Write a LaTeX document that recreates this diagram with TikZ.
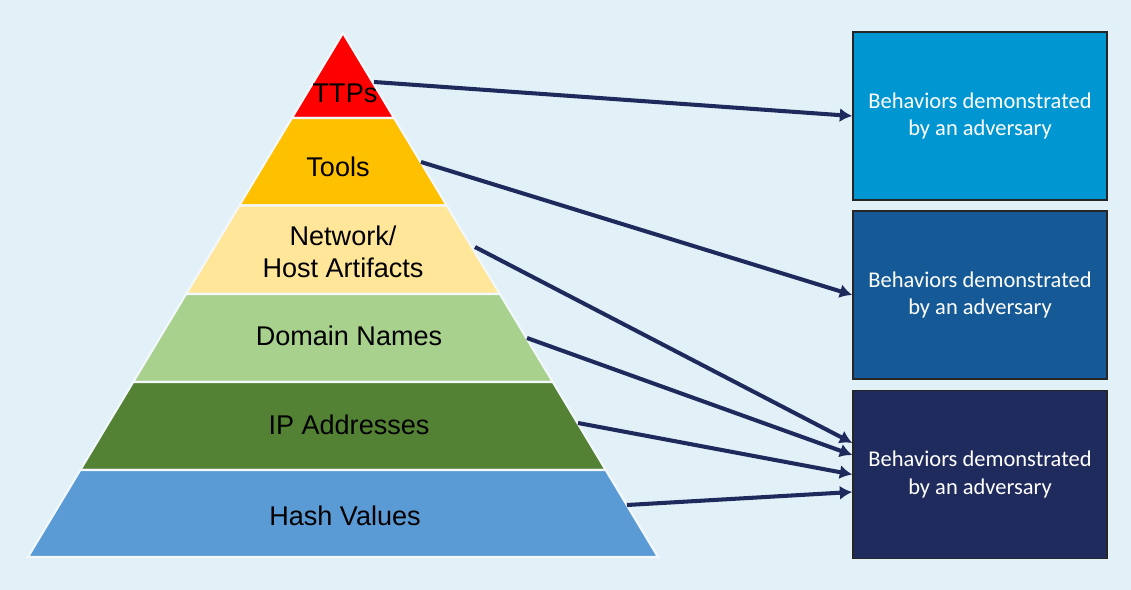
\documentclass[tikz,border=0pt]{standalone}
\usepackage{fontspec}
\setmainfont{Liberation Sans}
\newfontfamily\kastenschrift{Carlito}
\usetikzlibrary{arrows.meta}

\definecolor{hintergrund}{RGB}{226,240,248}
\definecolor{rot}{RGB}{255,0,0}
\definecolor{orange}{RGB}{255,192,0}
\definecolor{hellgelb}{RGB}{255,230,153}
\definecolor{hellgruen}{RGB}{169,209,142}
\definecolor{gruen}{RGB}{84,130,53}
\definecolor{blau}{RGB}{91,155,213}
\definecolor{kastenhell}{RGB}{0,150,210}
\definecolor{kastenmittel}{RGB}{21,90,150}
\definecolor{kastendunkel}{RGB}{31,43,92}
\definecolor{pfeilblau}{RGB}{31,42,92}

\tikzset{
	schicht/.style={draw=white!55!hintergrund, line width=1.2pt},
	stufe/.style={font=\fontsize{15.4}{18}\selectfont, align=center},
	kasten/.style={draw=black!85, line width=0.8pt, minimum width=5.08cm, minimum height=3.36cm,
		text=white, align=center, font=\kastenschrift\fontsize{12.8}{15.4}\selectfont},
	pfeil/.style={->, line width=2.3pt, draw=pfeilblau},
}

\begin{document}
\begin{tikzpicture}[x=0.02cm, y=-0.02cm, >={Latex[length=0.25cm,width=0.28cm]}]
	
	% Hintergrund
	\fill[hintergrund] (0,0) rectangle (1131,590);
	
	% Pyramide
	\filldraw[schicht, fill=rot] (343,33) -- (394.1,118) -- (291.9,118) -- cycle;
	\filldraw[schicht, fill=orange] (291.9,118) -- (394.1,118) -- (446.7,205.5) -- (239.3,205.5) -- cycle;
	\filldraw[schicht, fill=hellgelb] (239.3,205.5) -- (446.7,205.5) -- (499.9,294) -- (186.1,294) -- cycle;
	\filldraw[schicht, fill=hellgruen] (186.1,294) -- (499.9,294) -- (552.8,382) -- (133.2,382) -- cycle;
	\filldraw[schicht, fill=gruen] (133.2,382) -- (552.8,382) -- (605.7,470) -- (80.3,470) -- cycle;
	\filldraw[schicht, fill=blau] (80.3,470) -- (605.7,470) -- (658,557) -- (28,557) -- cycle;
	
	% Beschriftung der Stufen
	\node[stufe, anchor=base] (ttps) at (345,103) {TTPs};
	\node[stufe, anchor=base] (tools) at (338,177) {Tools};
	\node[stufe] (artefakte) at (343,252) {Network/\\Host Artifacts};
	\node[stufe, anchor=base] (domains) at (349,346) {Domain Names};
	\node[stufe, anchor=base] (ip) at (349,435) {IP Addresses};
	\node[stufe, anchor=base] (hash) at (345,525) {Hash Values};
	
	% Kaesten rechts
	\node[kasten, fill=kastenhell] (box1) at (980,116) {Behaviors demonstrated\\by an adversary};
	\node[kasten, fill=kastenmittel] (box2) at (980,295) {Behaviors demonstrated\\by an adversary};
	\node[kasten, fill=kastendunkel] (box3) at (980,474.5) {Behaviors demonstrated\\by an adversary};
	
	% Startpunkte der Pfeile
	\coordinate (ttps-aus) at (374,82);
	\coordinate (tools-aus) at (421,162);
	\coordinate (artefakte-aus) at (475,247);
	\coordinate (domains-aus) at (527,338);
	\coordinate (ip-aus) at (578,423);
	\coordinate (hash-aus) at (627,505);
	
	% Pfeile
	\draw[pfeil] (ttps-aus) -- (box1.west);
	\draw[pfeil] (tools-aus) -- (box2.west);
	\draw[pfeil] (artefakte-aus) -- ([yshift=0.63cm]box3.west);
	\draw[pfeil] (domains-aus) -- ([yshift=0.39cm]box3.west);
	\draw[pfeil] (ip-aus) -- (box3.west);
	\draw[pfeil] (hash-aus) -- ([yshift=-0.35cm]box3.west);
\end{tikzpicture}
\end{document}
